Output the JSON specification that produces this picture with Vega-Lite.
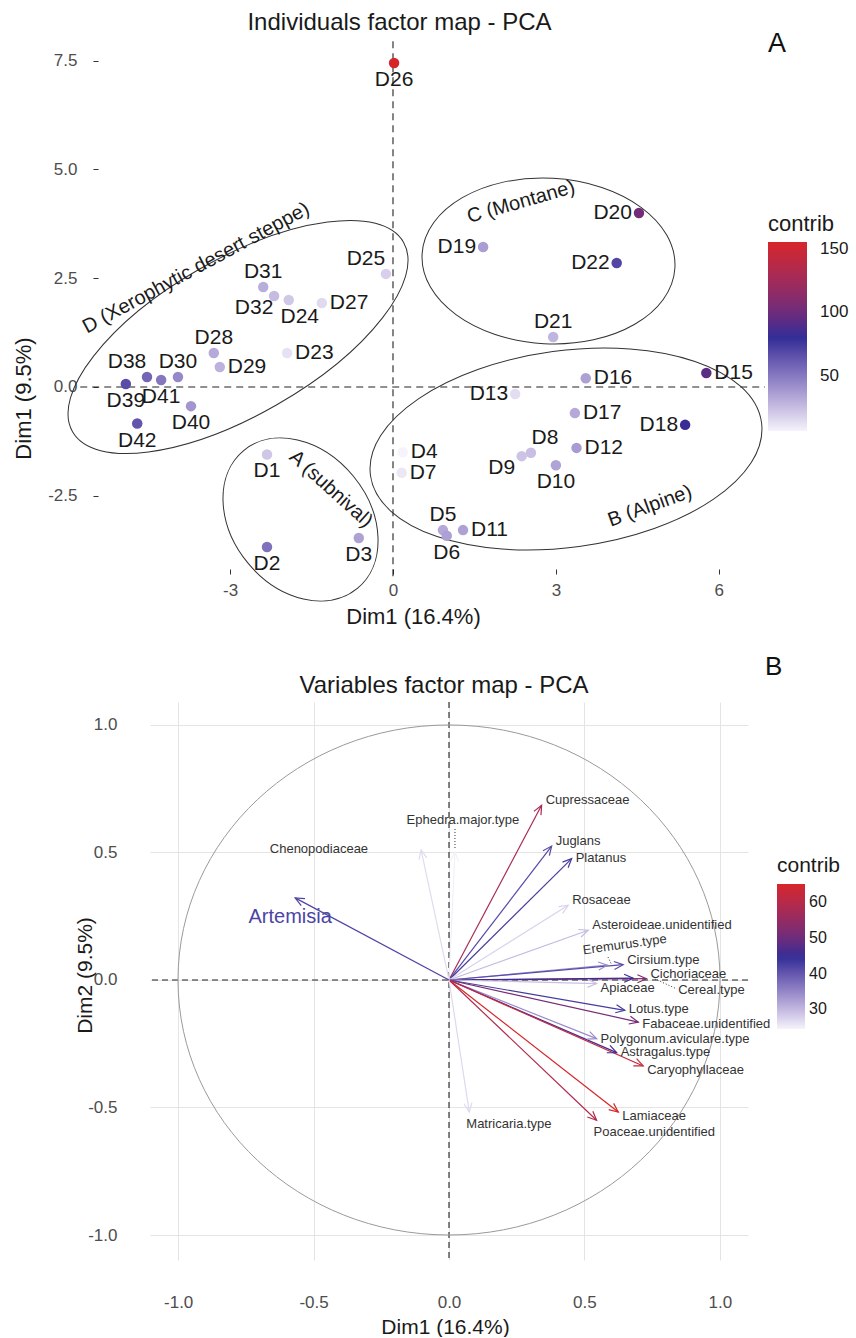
{
  "$schema": "https://vega.github.io/schema/vega-lite/v6.json",
  "padding": {"left": 12, "top": 11, "right": 0, "bottom": 0},
  "background": "white",
  "config": {
    "font": "Liberation Sans",
    "view": {"stroke": null},
    "locale": {"number": {"decimal": ".", "thousands": ",", "grouping": [3], "currency": ["$", ""], "minus": "-"}},
    "axis": {"labelFont": "Liberation Sans", "titleFont": "Liberation Sans", "titleFontWeight": "normal", "labelColor": "#4d4d4d", "titleColor": "#1a1a1a"},
    "legend": {"titleFontWeight": "normal", "titleColor": "#1a1a1a", "labelColor": "#1a1a1a", "titleFont": "Liberation Sans", "labelFont": "Liberation Sans"},
    "title": {"fontWeight": "normal", "color": "#1a1a1a", "font": "Liberation Sans"}
  },
  "datasets": {
    "individuals": [
      {"name": "D1", "x": -2.32, "y": -1.55, "contrib": 21.8},
      {"name": "D2", "x": -2.32, "y": -3.68, "contrib": 53.0},
      {"name": "D3", "x": -0.63, "y": -3.47, "contrib": 34.8},
      {"name": "D4", "x": 0.18, "y": -1.50, "contrib": 6.7},
      {"name": "D5", "x": 0.92, "y": -3.29, "contrib": 32.7},
      {"name": "D6", "x": 0.99, "y": -3.42, "contrib": 35.5},
      {"name": "D7", "x": 0.16, "y": -1.97, "contrib": 10.9},
      {"name": "D8", "x": 2.54, "y": -1.51, "contrib": 24.4},
      {"name": "D9", "x": 2.37, "y": -1.59, "contrib": 22.8},
      {"name": "D10", "x": 3.00, "y": -1.80, "contrib": 34.3},
      {"name": "D11", "x": 1.29, "y": -3.29, "contrib": 35.0},
      {"name": "D12", "x": 3.38, "y": -1.40, "contrib": 37.5},
      {"name": "D13", "x": 2.25, "y": -0.16, "contrib": 14.3},
      {"name": "D15", "x": 5.77, "y": 0.32, "contrib": 93.5},
      {"name": "D16", "x": 3.55, "y": 0.20, "contrib": 35.4},
      {"name": "D17", "x": 3.35, "y": -0.60, "contrib": 32.4},
      {"name": "D18", "x": 5.38, "y": -0.87, "contrib": 83.2},
      {"name": "D19", "x": 1.66, "y": 3.22, "contrib": 36.8},
      {"name": "D20", "x": 4.53, "y": 4.00, "contrib": 102.3},
      {"name": "D21", "x": 2.95, "y": 1.15, "contrib": 28.1},
      {"name": "D22", "x": 4.12, "y": 2.85, "contrib": 70.3},
      {"name": "D23", "x": -1.95, "y": 0.78, "contrib": 12.4},
      {"name": "D24", "x": -1.92, "y": 2.00, "contrib": 21.5},
      {"name": "D25", "x": -0.13, "y": 2.60, "contrib": 19.0},
      {"name": "D26", "x": 0.02, "y": 7.45, "contrib": 155.4},
      {"name": "D27", "x": -1.31, "y": 1.93, "contrib": 15.2},
      {"name": "D28", "x": -3.30, "y": 0.78, "contrib": 32.2},
      {"name": "D29", "x": -3.19, "y": 0.46, "contrib": 29.1},
      {"name": "D30", "x": -3.96, "y": 0.23, "contrib": 44.0},
      {"name": "D31", "x": -2.39, "y": 2.30, "contrib": 30.8},
      {"name": "D32", "x": -2.19, "y": 2.09, "contrib": 25.7},
      {"name": "D38", "x": -4.53, "y": 0.23, "contrib": 57.6},
      {"name": "D39", "x": -4.92, "y": 0.07, "contrib": 67.8},
      {"name": "D40", "x": -3.72, "y": -0.44, "contrib": 39.3},
      {"name": "D41", "x": -4.27, "y": 0.16, "contrib": 51.1},
      {"name": "D42", "x": -4.71, "y": -0.84, "contrib": 64.1}
    ],
    "variables": [
      {"name": "Cupressaceae", "x": 0.342, "y": 0.685, "contrib": 57.8},
      {"name": "Juglans", "x": 0.379, "y": 0.525, "contrib": 41.3},
      {"name": "Platanus", "x": 0.453, "y": 0.476, "contrib": 42.6},
      {"name": "Rosaceae", "x": 0.440, "y": 0.293, "contrib": 27.5},
      {"name": "Asteroideae.unidentified", "x": 0.514, "y": 0.195, "contrib": 29.8},
      {"name": "Eremurus.type", "x": 0.585, "y": 0.058, "contrib": 34.1},
      {"name": "Cirsium.type", "x": 0.643, "y": 0.060, "contrib": 41.1},
      {"name": "Cichoriaceae", "x": 0.729, "y": 0.005, "contrib": 52.4},
      {"name": "Cereal.type", "x": 0.680, "y": 0.007, "contrib": 45.6},
      {"name": "Apiaceae", "x": 0.545, "y": -0.014, "contrib": 29.3},
      {"name": "Lotus.type", "x": 0.649, "y": -0.119, "contrib": 42.9},
      {"name": "Fabaceae.unidentified", "x": 0.699, "y": -0.165, "contrib": 50.9},
      {"name": "Polygonum.aviculare.type", "x": 0.545, "y": -0.230, "contrib": 34.5},
      {"name": "Astragalus.type", "x": 0.619, "y": -0.285, "contrib": 45.8},
      {"name": "Caryophyllaceae", "x": 0.717, "y": -0.337, "contrib": 61.9},
      {"name": "Lamiaceae", "x": 0.625, "y": -0.518, "contrib": 65.0},
      {"name": "Poaceae.unidentified", "x": 0.545, "y": -0.550, "contrib": 59.1},
      {"name": "Matricaria.type", "x": 0.075, "y": -0.518, "contrib": 27.0},
      {"name": "Chenopodiaceae", "x": -0.103, "y": 0.510, "contrib": 26.7},
      {"name": "Ephedra.major.type", "x": 0.022, "y": 0.502, "contrib": 24.9},
      {"name": "Artemisia", "x": -0.568, "y": 0.322, "contrib": 42.0}
    ]
  },
  "spacing": 27,
  "align": "each",
  "resolve": {"scale": {"x": "independent", "y": "independent", "color": "independent"}, "legend": {"color": "independent"}},
  "vconcat": [
    {
      "width": 615,
      "height": 528,
      "title": {"text": "Individuals factor map - PCA", "fontSize": 24, "frame": "group", "anchor": "middle", "dx": -58, "offset": -5},
      "data": {"name": "individuals"},
      "layer": [
        {"data": {"values": [{}]}, "mark": {"type": "rule", "strokeDash": [7, 5], "color": "#222222", "strokeWidth": 1.1}, "encoding": {"x": {"datum": -5.76, "type": "quantitative"}, "x2": {"datum": 6.85}, "y": {"datum": 0, "type": "quantitative"}}},
        {"data": {"values": [{}]}, "mark": {"type": "rule", "strokeDash": [7, 5], "color": "#222222", "strokeWidth": 1.1}, "encoding": {"x": {"datum": 0, "type": "quantitative"}, "y": {"datum": 7.95, "type": "quantitative"}, "y2": {"datum": -4.39}}},
        {"data": {"values": [{}]}, "mark": {"type": "point", "shape": "M 190.7 0 C 190.7 43.1 105.3 78.1 0 78.1 C -105.3 78.1 -190.7 43.1 -190.7 0 C -190.7 -43.1 -105.3 -78.1 0 -78.1 C 105.3 -78.1 190.7 -43.1 190.7 0 Z", "size": 4, "angle": 330.2, "filled": false, "stroke": "#333333", "strokeWidth": 1, "opacity": 1}, "encoding": {"x": {"datum": -2.854, "type": "quantitative"}, "y": {"datum": 1.149, "type": "quantitative"}}},
        {"data": {"values": [{}]}, "mark": {"type": "point", "shape": "M 89.4 0 C 89.4 37.7 49.4 68.3 0 68.3 C -49.4 68.3 -89.4 37.7 -89.4 0 C -89.4 -37.7 -49.4 -68.3 0 -68.3 C 49.4 -68.3 89.4 -37.7 89.4 0 Z", "size": 4, "angle": 50.5, "filled": false, "stroke": "#333333", "strokeWidth": 1, "opacity": 1}, "encoding": {"x": {"datum": -1.703, "type": "quantitative"}, "y": {"datum": -3.046, "type": "quantitative"}}},
        {"data": {"values": [{}]}, "mark": {"type": "point", "shape": "M 197.3 0 C 197.3 54.3 109 98.3 0 98.3 C -109 98.3 -197.3 54.3 -197.3 0 C -197.3 -54.3 -109 -98.3 0 -98.3 C 109 -98.3 197.3 -54.3 197.3 0 Z", "size": 4, "angle": 352.3, "filled": false, "stroke": "#333333", "strokeWidth": 1, "opacity": 1}, "encoding": {"x": {"datum": 3.186, "type": "quantitative"}, "y": {"datum": -1.425, "type": "quantitative"}}},
        {"data": {"values": [{}]}, "mark": {"type": "point", "shape": "M 126.6 0 C 126.6 45.7 69.9 82.8 0 82.8 C -69.9 82.8 -126.6 45.7 -126.6 0 C -126.6 -45.7 -69.9 -82.8 0 -82.8 C 69.9 -82.8 126.6 -45.7 126.6 0 Z", "size": 4, "angle": 3.1, "filled": false, "stroke": "#333333", "strokeWidth": 1, "opacity": 1}, "encoding": {"x": {"datum": 2.864, "type": "quantitative"}, "y": {"datum": 2.897, "type": "quantitative"}}},
        {
          "mark": {"type": "circle", "size": 110, "opacity": 1},
          "encoding": {
            "x": {"field": "x", "type": "quantitative", "scale": {"domain": [-4.475, 6.851], "nice": false, "zero": false},
              "axis": {"values": [-3, 0, 3, 6], "format": "d", "domain": false, "grid": false, "ticks": true, "tickSize": 5, "tickColor": "#333333", "labelFontSize": 17, "labelPadding": 8, "title": "Dim1 (16.4%)", "titleFontSize": 22, "titleX": 263, "titleY": 47, "titleBaseline": "middle", "titleAlign": "center"}},
            "y": {"field": "y", "type": "quantitative", "scale": {"domain": [-4.184, 7.954], "nice": false, "zero": false},
              "axis": {"values": [-2.5, 0, 2.5, 5, 7.5], "format": ".1f", "offset": 52, "domain": false, "grid": false, "ticks": true, "tickSize": 5, "tickColor": "#333333", "labelFontSize": 17, "labelPadding": 16, "title": "Dim1 (9.5%)", "titleFontSize": 22, "titleX": -75, "titleY": 357, "titleBaseline": "middle", "titleAlign": "center", "titleAngle": -90}},
            "color": {"field": "contrib", "type": "quantitative",
              "scale": {"domain": [6.7, 81, 155.4], "range": ["#F6F3FB", "#2E2C96", "#D7262B"], "interpolate": "lab"},
              "legend": {"type": "gradient", "title": "contrib", "orient": "none", "legendX": 618, "legendY": 173, "direction": "vertical", "gradientLength": 189, "gradientThickness": 39, "values": [50, 100, 150], "labelOffset": 13, "labelFontSize": 17, "titleFontSize": 22, "titlePadding": 6, "gradientStrokeWidth": 0}}
          }
        },
        {"transform": [{"filter": {"field": "name", "oneOf": ["D26", "D41", "D39", "D40", "D42", "D1", "D2", "D3", "D6", "D10"]}}], "mark": {"type": "text", "fontSize": 21, "color": "#1a1a1a", "align": "center", "baseline": "middle", "dy": 17}, "encoding": {"x": {"field": "x", "type": "quantitative"}, "y": {"field": "y", "type": "quantitative"}, "text": {"field": "name", "type": "nominal"}}},
        {"transform": [{"filter": {"field": "name", "oneOf": ["D31", "D28", "D30", "D5", "D21"]}}], "mark": {"type": "text", "fontSize": 21, "color": "#1a1a1a", "align": "center", "baseline": "middle", "dy": -15}, "encoding": {"x": {"field": "x", "type": "quantitative"}, "y": {"field": "y", "type": "quantitative"}, "text": {"field": "name", "type": "nominal"}}},
        {"transform": [{"filter": {"field": "name", "oneOf": ["D38", "D25"]}}], "mark": {"type": "text", "fontSize": 21, "color": "#1a1a1a", "align": "center", "baseline": "middle", "dx": -20, "dy": -15}, "encoding": {"x": {"field": "x", "type": "quantitative"}, "y": {"field": "y", "type": "quantitative"}, "text": {"field": "name", "type": "nominal"}}},
        {"transform": [{"filter": {"field": "name", "oneOf": ["D8"]}}], "mark": {"type": "text", "fontSize": 21, "color": "#1a1a1a", "align": "center", "baseline": "middle", "dx": 14, "dy": -15}, "encoding": {"x": {"field": "x", "type": "quantitative"}, "y": {"field": "y", "type": "quantitative"}, "text": {"field": "name", "type": "nominal"}}},
        {"transform": [{"filter": {"field": "name", "oneOf": ["D24"]}}], "mark": {"type": "text", "fontSize": 21, "color": "#1a1a1a", "align": "center", "baseline": "middle", "dx": 11, "dy": 17}, "encoding": {"x": {"field": "x", "type": "quantitative"}, "y": {"field": "y", "type": "quantitative"}, "text": {"field": "name", "type": "nominal"}}},
        {"transform": [{"filter": {"field": "name", "oneOf": ["D32", "D9"]}}], "mark": {"type": "text", "fontSize": 21, "color": "#1a1a1a", "align": "center", "baseline": "middle", "dx": -20, "dy": 12}, "encoding": {"x": {"field": "x", "type": "quantitative"}, "y": {"field": "y", "type": "quantitative"}, "text": {"field": "name", "type": "nominal"}}},
        {"transform": [{"filter": {"field": "name", "oneOf": ["D27", "D29", "D23", "D7", "D11", "D16", "D15", "D17", "D12", "D4"]}}], "mark": {"type": "text", "fontSize": 21, "color": "#1a1a1a", "align": "left", "baseline": "middle", "dx": 8}, "encoding": {"x": {"field": "x", "type": "quantitative"}, "y": {"field": "y", "type": "quantitative"}, "text": {"field": "name", "type": "nominal"}}},
        {"transform": [{"filter": {"field": "name", "oneOf": ["D13", "D18", "D19", "D20", "D22"]}}], "mark": {"type": "text", "fontSize": 21, "color": "#1a1a1a", "align": "right", "baseline": "middle", "dx": -7}, "encoding": {"x": {"field": "x", "type": "quantitative"}, "y": {"field": "y", "type": "quantitative"}, "text": {"field": "name", "type": "nominal"}}},
        {"data": {"values": [{}]}, "mark": {"type": "text", "text": "D (Xerophytic desert steppe)", "fontSize": 20, "color": "#1a1a1a", "align": "center", "baseline": "middle", "angle": 331.6}, "encoding": {"x": {"datum": -3.628, "type": "quantitative"}, "y": {"datum": 2.736, "type": "quantitative"}}},
        {"data": {"values": [{}]}, "mark": {"type": "text", "text": "C (Montane)", "fontSize": 20, "color": "#1a1a1a", "align": "center", "baseline": "middle", "angle": 344}, "encoding": {"x": {"datum": 2.357, "type": "quantitative"}, "y": {"datum": 4.253, "type": "quantitative"}}},
        {"data": {"values": [{}]}, "mark": {"type": "text", "text": "A (subnival)", "fontSize": 20, "color": "#1a1a1a", "align": "center", "baseline": "middle", "angle": 42}, "encoding": {"x": {"datum": -1.142, "type": "quantitative"}, "y": {"datum": -2.345, "type": "quantitative"}}},
        {"data": {"values": [{}]}, "mark": {"type": "text", "text": "B (Alpine)", "fontSize": 20, "color": "#1a1a1a", "align": "center", "baseline": "middle", "angle": 340}, "encoding": {"x": {"datum": 4.733, "type": "quantitative"}, "y": {"datum": -2.736, "type": "quantitative"}}},
        {"data": {"values": [{}]}, "mark": {"type": "text", "text": "A", "fontSize": 27, "color": "#111111", "align": "center", "baseline": "middle"}, "encoding": {"x": {"datum": 7.072, "type": "quantitative"}, "y": {"datum": 7.885, "type": "quantitative"}}}
      ]
    },
    {
      "width": 598,
      "height": 558,
      "title": {"text": "Variables factor map - PCA", "fontSize": 24, "frame": "group", "anchor": "middle", "dx": -5, "offset": -43.5},
      "data": {"name": "variables"},
      "layer": [
        {"data": {"values": [{}]}, "mark": {"type": "rule", "strokeDash": [6, 4], "color": "#222222", "strokeWidth": 1.1}, "encoding": {"y": {"datum": 0, "type": "quantitative"}}},
        {"data": {"values": [{}]}, "mark": {"type": "rule", "strokeDash": [6, 4], "color": "#222222", "strokeWidth": 1.1}, "encoding": {"x": {"datum": 0, "type": "quantitative"}}},
        {"data": {"values": [{}]}, "mark": {"type": "point", "shape": "M 271 0 C 271 140.8 149.7 255 0 255 C -149.7 255 -271 140.8 -271 0 C -271 -140.8 -149.7 -255 0 -255 C 149.7 -255 271 -140.8 271 0 Z", "size": 4, "filled": false, "stroke": "#9a9a9a", "strokeWidth": 1, "opacity": 1}, "encoding": {"x": {"datum": 0, "type": "quantitative"}, "y": {"datum": 0, "type": "quantitative"}}},
        {
          "mark": {"type": "rule", "strokeWidth": 1.2},
          "encoding": {
            "x": {"field": "x", "type": "quantitative"},
            "y": {"field": "y", "type": "quantitative"},
            "x2": {"datum": 0},
            "y2": {"datum": 0},
            "color": {"field": "contrib", "type": "quantitative",
              "scale": {"domain": [24.5, 44.75, 65], "range": ["#F6F3FB", "#2E2C96", "#D7262B"], "interpolate": "lab"},
              "legend": {"type": "gradient", "title": "contrib", "orient": "none", "legendX": 627, "legendY": 153, "direction": "vertical", "gradientLength": 145, "gradientThickness": 28, "values": [30, 40, 50, 60], "labelOffset": 4, "labelFontSize": 16, "titleFontSize": 21, "titlePadding": 8, "gradientStrokeWidth": 0}}
          }
        },
        {
          "mark": {"type": "point", "shape": "M -4 9 L 0 0 L 4 9", "size": 4, "filled": false, "strokeWidth": 1.2, "opacity": 1, "angle": {"expr": "atan2(datum.x * 271, datum.y * 255) * 180 / PI"}},
          "encoding": {
            "x": {"field": "x", "type": "quantitative", "scale": {"domain": [-1.104, 1.104], "nice": false, "zero": false},
              "axis": {"values": [-1, -0.5, 0, 0.5, 1], "format": ".1f", "domain": false, "ticks": false, "tickSize": 0, "grid": true, "gridColor": "#e4e4e4", "gridWidth": 1, "labelFontSize": 17, "labelPadding": 34, "title": "Dim1 (16.4%)", "titleFontSize": 21, "titleX": 295, "titleY": 67, "titleBaseline": "middle", "titleAlign": "center"}},
            "y": {"field": "y", "type": "quantitative", "scale": {"domain": [-1.098, 1.09], "nice": false, "zero": false},
              "axis": {"values": [-1, -0.5, 0, 0.5, 1], "format": ".1f", "domain": false, "ticks": false, "tickSize": 0, "grid": true, "gridColor": "#e4e4e4", "gridWidth": 1, "labelFontSize": 17, "labelPadding": 33, "title": "Dim2 (9.5%)", "titleFontSize": 21, "titleX": -65, "titleY": 273, "titleBaseline": "middle", "titleAlign": "center", "titleAngle": -90}},
            "color": {"field": "contrib", "type": "quantitative"}
          }
        },
        {"transform": [{"filter": {"field": "name", "oneOf": ["Cupressaceae", "Juglans", "Rosaceae", "Asteroideae.unidentified", "Cirsium.type", "Cichoriaceae"]}}], "mark": {"type": "text", "fontSize": 13, "color": "#333333", "align": "left", "baseline": "middle", "dx": 4, "dy": -5}, "encoding": {"x": {"field": "x", "type": "quantitative"}, "y": {"field": "y", "type": "quantitative"}, "text": {"field": "name", "type": "nominal"}}},
        {"transform": [{"filter": {"field": "name", "oneOf": ["Platanus", "Lotus.type", "Astragalus.type"]}}], "mark": {"type": "text", "fontSize": 13, "color": "#333333", "align": "left", "baseline": "middle", "dx": 4, "dy": -1}, "encoding": {"x": {"field": "x", "type": "quantitative"}, "y": {"field": "y", "type": "quantitative"}, "text": {"field": "name", "type": "nominal"}}},
        {"transform": [{"filter": {"field": "name", "oneOf": ["Polygonum.aviculare.type"]}}], "mark": {"type": "text", "fontSize": 13, "color": "#333333", "align": "left", "baseline": "middle", "dx": 4, "dy": 0}, "encoding": {"x": {"field": "x", "type": "quantitative"}, "y": {"field": "y", "type": "quantitative"}, "text": {"field": "name", "type": "nominal"}}},
        {"transform": [{"filter": {"field": "name", "oneOf": ["Fabaceae.unidentified"]}}], "mark": {"type": "text", "fontSize": 13, "color": "#333333", "align": "left", "baseline": "middle", "dx": 4, "dy": 2}, "encoding": {"x": {"field": "x", "type": "quantitative"}, "y": {"field": "y", "type": "quantitative"}, "text": {"field": "name", "type": "nominal"}}},
        {"transform": [{"filter": {"field": "name", "oneOf": ["Caryophyllaceae", "Lamiaceae", "Apiaceae"]}}], "mark": {"type": "text", "fontSize": 13, "color": "#333333", "align": "left", "baseline": "middle", "dx": 4, "dy": 4}, "encoding": {"x": {"field": "x", "type": "quantitative"}, "y": {"field": "y", "type": "quantitative"}, "text": {"field": "name", "type": "nominal"}}},
        {"transform": [{"filter": {"field": "name", "oneOf": ["Poaceae.unidentified", "Matricaria.type"]}}], "mark": {"type": "text", "fontSize": 13, "color": "#333333", "align": "left", "baseline": "middle", "dx": -3, "dy": 12}, "encoding": {"x": {"field": "x", "type": "quantitative"}, "y": {"field": "y", "type": "quantitative"}, "text": {"field": "name", "type": "nominal"}}},
        {"transform": [{"filter": {"field": "name", "oneOf": ["Cereal.type"]}}], "mark": {"type": "text", "fontSize": 13, "color": "#333333", "align": "left", "baseline": "middle", "dx": 45, "dy": 12}, "encoding": {"x": {"field": "x", "type": "quantitative"}, "y": {"field": "y", "type": "quantitative"}, "text": {"field": "name", "type": "nominal"}}},
        {"transform": [{"filter": {"field": "name", "oneOf": ["Chenopodiaceae"]}}], "mark": {"type": "text", "fontSize": 13, "color": "#333333", "align": "right", "baseline": "middle", "dx": -53, "dy": -1}, "encoding": {"x": {"field": "x", "type": "quantitative"}, "y": {"field": "y", "type": "quantitative"}, "text": {"field": "name", "type": "nominal"}}},
        {"transform": [{"filter": {"field": "name", "oneOf": ["Ephedra.major.type"]}}], "mark": {"type": "text", "fontSize": 13, "color": "#333333", "align": "center", "baseline": "middle", "dx": 8, "dy": -32}, "encoding": {"x": {"field": "x", "type": "quantitative"}, "y": {"field": "y", "type": "quantitative"}, "text": {"field": "name", "type": "nominal"}}},
        {"transform": [{"filter": {"field": "name", "oneOf": ["Eremurus.type"]}}], "mark": {"type": "text", "fontSize": 13, "color": "#333333", "align": "center", "baseline": "middle", "dx": 20, "dy": -18, "angle": 352}, "encoding": {"x": {"field": "x", "type": "quantitative"}, "y": {"field": "y", "type": "quantitative"}, "text": {"field": "name", "type": "nominal"}}},
        {"transform": [{"filter": {"field": "name", "oneOf": ["Artemisia"]}}], "mark": {"type": "text", "fontSize": 20, "color": "#4a45a4", "align": "center", "baseline": "middle", "dx": -5, "dy": 19}, "encoding": {"x": {"field": "x", "type": "quantitative"}, "y": {"field": "y", "type": "quantitative"}, "text": {"field": "name", "type": "nominal"}}},
        {"data": {"values": [{}]}, "mark": {"type": "rule", "strokeDash": [1, 2], "color": "#333333", "strokeWidth": 1}, "encoding": {"x": {"datum": 0.022, "type": "quantitative"}, "y": {"datum": 0.592, "type": "quantitative"}, "y2": {"datum": 0.51}}},
        {"data": {"values": [{}]}, "mark": {"type": "rule", "strokeDash": [1, 2], "color": "#333333", "strokeWidth": 1}, "encoding": {"x": {"datum": 0.587, "type": "quantitative"}, "x2": {"datum": 0.601}, "y": {"datum": 0.09, "type": "quantitative"}, "y2": {"datum": 0.059}}},
        {"data": {"values": [{}]}, "mark": {"type": "rule", "strokeDash": [1, 2], "color": "#333333", "strokeWidth": 1}, "encoding": {"x": {"datum": 0.76, "type": "quantitative"}, "x2": {"datum": 0.841}, "y": {"datum": 0.004, "type": "quantitative"}, "y2": {"datum": -0.035}}},
        {"data": {"values": [{}]}, "mark": {"type": "text", "text": "B", "fontSize": 26, "color": "#111111", "align": "center", "baseline": "middle"}, "encoding": {"x": {"datum": 1.199, "type": "quantitative"}, "y": {"datum": 1.227, "type": "quantitative"}}}
      ]
    }
  ]
}
